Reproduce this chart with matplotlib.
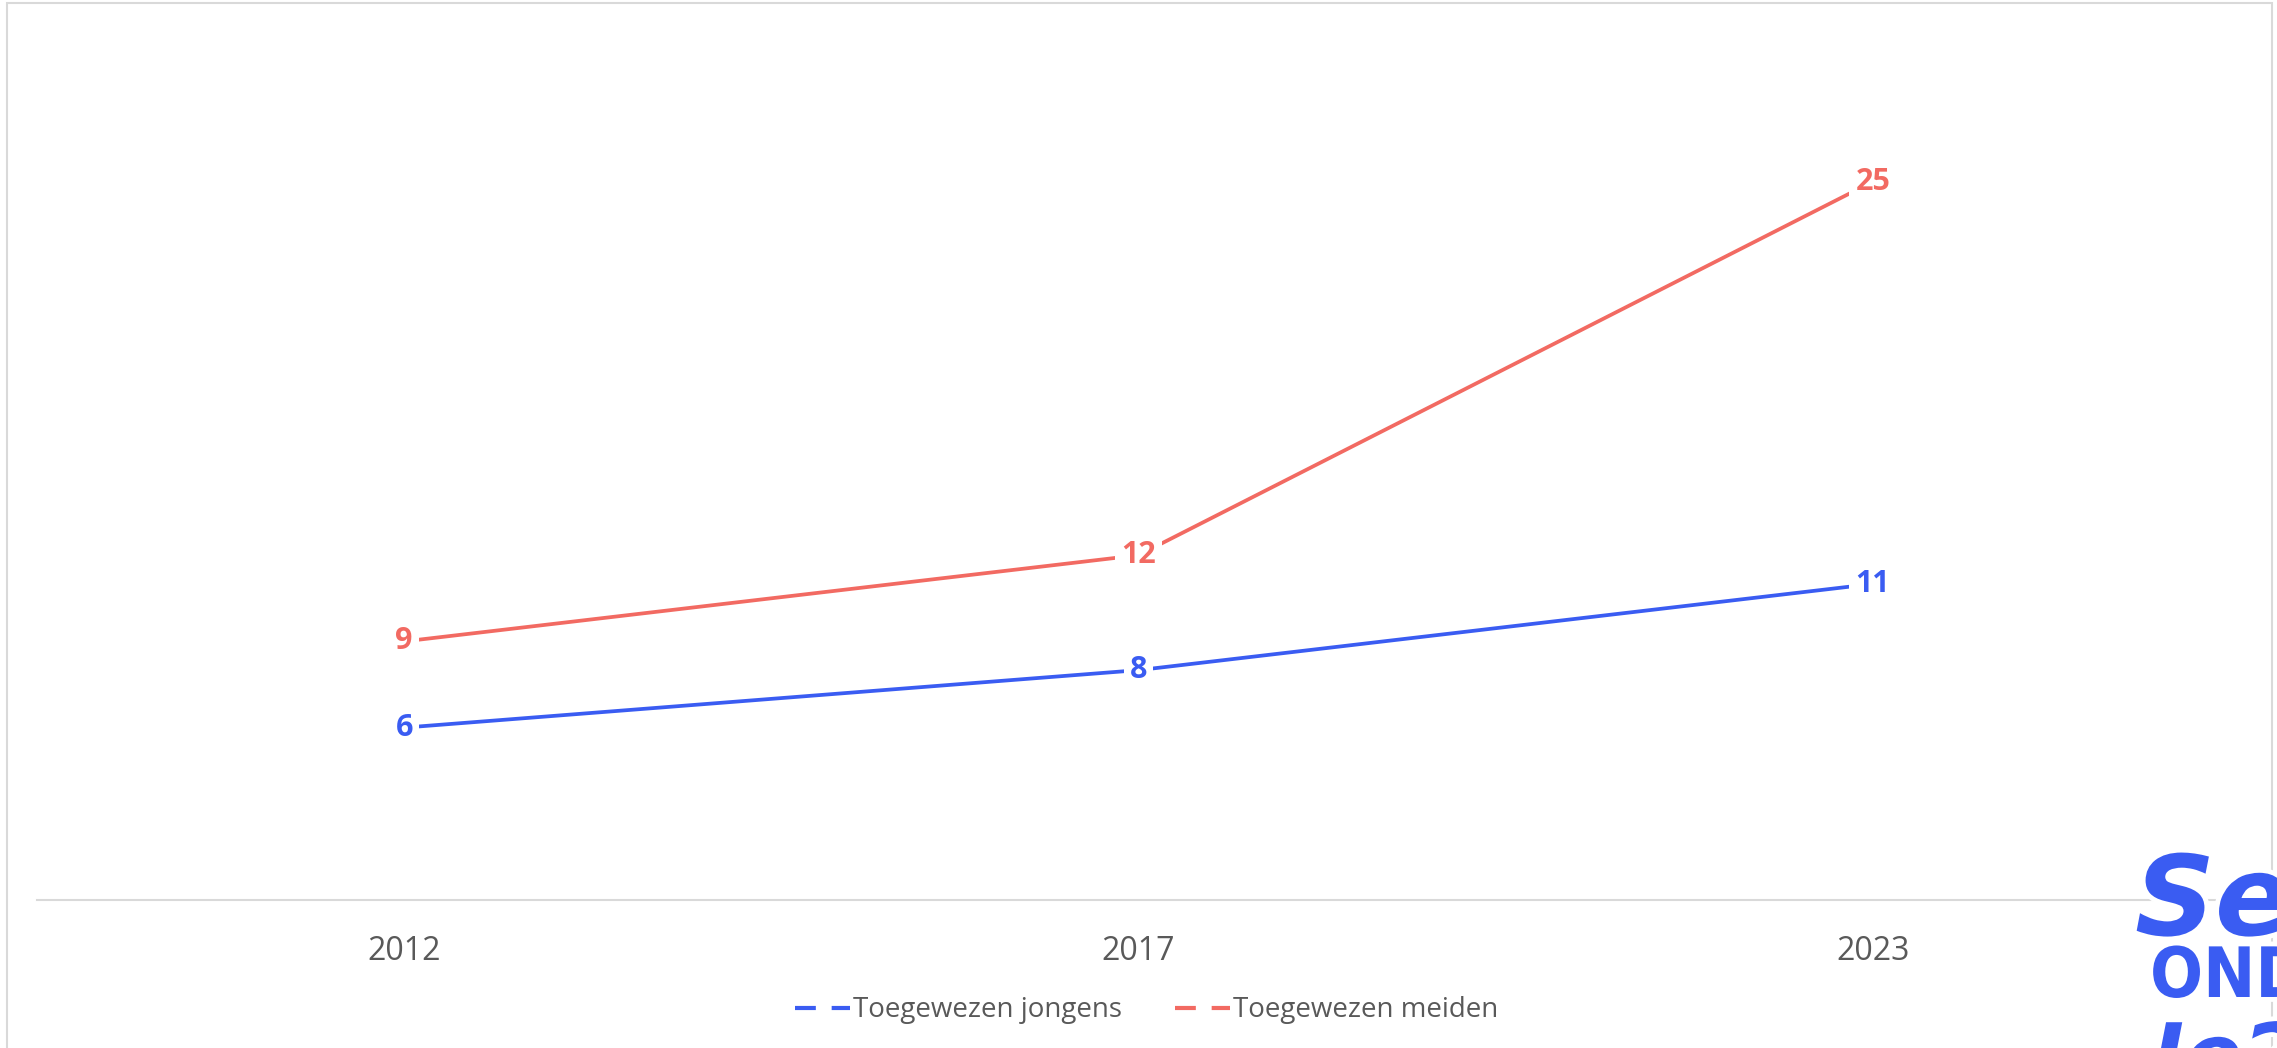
import matplotlib
matplotlib.use('Agg')
import matplotlib.pyplot as plt
import matplotlib.patheffects as pe
from matplotlib.lines import Line2D
from matplotlib.patches import Rectangle

# data
years = ['2012', '2017', '2023']
jongens = [6, 8, 11]
meiden = [9, 12, 25]
series_names = ['Toegewezen jongens', 'Toegewezen meiden']

BLUE = '#3A5CF2'
RED = '#F26A62'
GREY_TXT = '#595959'
GREY_LINE = '#D9D9D9'

plt.rcParams['font.family'] = ['Open Sans', 'DejaVu Sans']

fig = plt.figure(figsize=(22.77, 10.48), dpi=100)
ax = fig.add_axes([37 / 2277, 148 / 1048, 2203 / 2277, 862 / 1048])

x = list(range(len(years)))
for vals, col in ((jongens, BLUE), (meiden, RED)):
    ax.plot(x, vals, color=col, lw=2.7, solid_capstyle='butt', zorder=2)
    for xi, v in zip(x, vals):
        ax.text(xi, v, str(v), color=col, fontsize=22, fontweight='bold',
                ha='center', va='center', zorder=3,
                bbox=dict(boxstyle='square,pad=0.2', fc='white', ec='none'))

ax.set_xlim(-0.5, len(years) - 0.5)
ax.set_ylim(0, 30)
ax.set_xticks(x)
ax.set_xticklabels(years, fontsize=23, color=GREY_TXT)
ax.set_yticks([])
ax.tick_params(axis='x', length=0, pad=25)
for s in ('top', 'right', 'left'):
    ax.spines[s].set_visible(False)
ax.spines['bottom'].set_color(GREY_LINE)
ax.spines['bottom'].set_linewidth(1.5)

# legend with dash-gap-dash samples
handles = [Line2D([], [], color=c, lw=3.0, dashes=(5, 3.8)) for c in (BLUE, RED)]
fig.legend(handles, series_names, loc='center', bbox_to_anchor=(0.5035, 0.036),
           ncol=2, frameon=False, fontsize=20, labelcolor=GREY_TXT,
           handlelength=2.0, handletextpad=0.1, columnspacing=1.9)

# chart border
fig.patches.append(Rectangle((7 / 2277, -0.05), 2265 / 2277, 1.05 - 3 / 1048,
                             transform=fig.transFigure, fill=False,
                             ec=GREY_LINE, lw=1.5))

# cropped logo in the lower right corner
outline = [pe.withStroke(linewidth=7, foreground='white')]
fig.text(2135 / 2277, 1 - 935 / 1048, 'Sek', color=BLUE, fontsize=80,
         fontstyle='italic', fontweight='bold', family='DejaVu Sans',
         path_effects=outline, va='baseline')
fig.text(2150 / 2277, 1 - 997 / 1048, 'ONDE', color=BLUE, fontsize=50,
         fontweight='bold', family='DejaVu Sans', fontstretch='condensed',
         path_effects=outline, va='baseline')
fig.text(2152 / 2277, 1 - 1085 / 1048, 'Ie2', color=BLUE, fontsize=62,
         fontstyle='italic', fontweight='bold', family='DejaVu Sans',
         path_effects=outline, va='baseline')

fig.savefig('out.png', dpi=100)
